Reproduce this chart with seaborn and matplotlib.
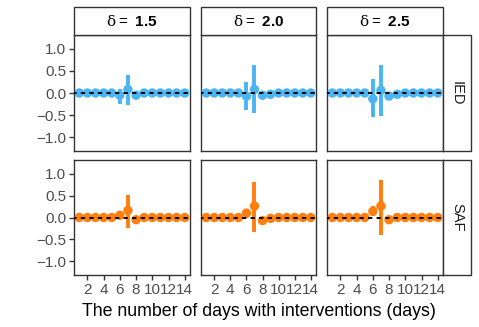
import numpy as np
import pandas as pd
import seaborn as sns
import matplotlib
matplotlib.use("Agg")
import matplotlib.pyplot as plt
from matplotlib.patches import Rectangle

sns.set_theme(style="white")
plt.rcParams['font.family'] = ['Liberation Sans', 'DejaVu Sans']
plt.rcParams['mathtext.fontset'] = 'custom'
plt.rcParams['mathtext.rm'] = 'DejaVu Serif'
plt.rcParams['mathtext.sf'] = 'Liberation Sans'
plt.rcParams['mathtext.bf'] = 'Liberation Sans:bold'

# ---- data ----
days = list(range(1, 15))
deltas = ["1.5", "2.0", "2.5"]
groups = ["IED", "SAF"]

# estimates per day, lower and upper bounds
ied_est = {
    "1.5": [0, 0, 0, 0, 0, -0.05, 0.08, -0.05, 0, 0, 0, 0, 0, 0],
    "2.0": [0, 0, 0, 0, 0, -0.07, 0.08, -0.05, -0.03, 0, 0, 0, 0, 0],
    "2.5": [0, 0, 0, 0, 0, -0.13, 0.06, -0.07, -0.03, 0, 0, 0, 0, 0],
}
ied_lo = {
    "1.5": [-0.03, -0.03, -0.03, -0.03, -0.03, -0.24, -0.28, -0.09, -0.03, -0.03, -0.03, -0.03, -0.03, -0.03],
    "2.0": [-0.03, -0.03, -0.03, -0.03, -0.03, -0.39, -0.45, -0.1, -0.06, -0.03, -0.03, -0.03, -0.03, -0.03],
    "2.5": [-0.03, -0.03, -0.03, -0.03, -0.03, -0.54, -0.52, -0.12, -0.06, -0.03, -0.03, -0.03, -0.03, -0.03],
}
ied_hi = {
    "1.5": [0.03, 0.03, 0.03, 0.03, 0.03, 0.1, 0.4, 0.0, 0.03, 0.03, 0.03, 0.03, 0.03, 0.03],
    "2.0": [0.03, 0.03, 0.03, 0.03, 0.03, 0.24, 0.63, 0.0, 0.0, 0.03, 0.03, 0.03, 0.03, 0.03],
    "2.5": [0.03, 0.03, 0.03, 0.03, 0.03, 0.31, 0.63, 0.0, 0.0, 0.03, 0.03, 0.03, 0.03, 0.03],
}
saf_est = {
    "1.5": [0, 0, 0, 0, 0, 0.05, 0.16, -0.05, 0, 0, 0, 0, 0, 0],
    "2.0": [0, 0, 0, 0, 0, 0.1, 0.26, -0.07, -0.02, 0, 0, 0, 0, 0],
    "2.5": [0, 0, 0, 0, 0, 0.14, 0.26, -0.05, 0, 0, 0, 0, 0, 0],
}
saf_lo = {
    "1.5": [-0.03, -0.03, -0.03, -0.03, -0.03, 0.0, -0.23, -0.09, -0.03, -0.03, -0.03, -0.03, -0.03, -0.03],
    "2.0": [-0.03, -0.03, -0.03, -0.03, -0.03, 0.0, -0.33, -0.12, -0.05, -0.03, -0.03, -0.03, -0.03, -0.03],
    "2.5": [-0.03, -0.03, -0.03, -0.03, -0.03, 0.03, -0.39, -0.1, -0.03, -0.03, -0.03, -0.03, -0.03, -0.03],
}
saf_hi = {
    "1.5": [0.03, 0.03, 0.03, 0.03, 0.03, 0.09, 0.52, 0.0, 0.03, 0.03, 0.03, 0.03, 0.03, 0.03],
    "2.0": [0.03, 0.03, 0.03, 0.03, 0.03, 0.18, 0.82, 0.0, 0.01, 0.03, 0.03, 0.03, 0.03, 0.03],
    "2.5": [0.03, 0.03, 0.03, 0.03, 0.03, 0.26, 0.86, 0.0, 0.03, 0.03, 0.03, 0.03, 0.03, 0.03],
}

colors = {"IED": "#4AB5F2", "SAF": "#FF7F0E"}

rows = []
for g, (e, lo, hi) in zip(groups, [(ied_est, ied_lo, ied_hi), (saf_est, saf_lo, saf_hi)]):
    for d in deltas:
        for i, day in enumerate(days):
            rows.append(dict(group=g, delta=d, day=day, est=e[d][i], lo=lo[d][i], hi=hi[d][i]))
df = pd.DataFrame(rows)

W, H = 479, 327
fig = plt.figure(figsize=(W / 100, H / 100), dpi=100)

panel_x = [(74, 190), (201, 316), (327, 443)]
panel_y = [(35, 151), (160, 275)]
grey = "#4D4D4D"

def fx(px):
    return px / W

def fy(py):
    return 1 - py / H

for r, g in enumerate(groups):
    for c, d in enumerate(deltas):
        x0, x1 = panel_x[c]
        y0, y1 = panel_y[r]
        ax = fig.add_axes([fx(x0), fy(y1), fx(x1 - x0), (y1 - y0) / H])
        sub = df[(df.group == g) & (df.delta == d)]
        ax.vlines(sub.day, sub.lo, sub.hi, color=colors[g], lw=2.8, zorder=2)
        sns.scatterplot(data=sub, x="day", y="est", color=colors[g], s=46,
                        edgecolor="none", ax=ax, zorder=3, legend=False)
        # dashed zero line drawn over the points
        ax.axhline(0, color="black", lw=1.4, ls=(0.9, (2.2, 2.2)), zorder=4)
        ax.set_xlim(0.35, 14.65)
        ax.set_ylim(-1.31, 1.31)
        ax.set_xticks([2, 4, 6, 8, 10, 12, 14])
        ax.set_yticks([-1.0, -0.5, 0.0, 0.5, 1.0])
        ax.set_xlabel("")
        ax.set_ylabel("")
        for s in ax.spines.values():
            s.set_color("#333333")
            s.set_linewidth(1.0)
        ax.tick_params(axis="both", length=3.5, width=1, color="#333333",
                       labelcolor=grey, labelsize=11, pad=2, direction="out",
                       bottom=True, left=True)
        if c == 0:
            ax.set_yticklabels(["\u22121.0", "\u22120.5", "0.0", "0.5", "1.0"])
        else:
            ax.tick_params(axis="y", left=False, labelleft=False)
        if r == 0:
            ax.tick_params(axis="x", bottom=False, labelbottom=False)

        # top strips
        if r == 0:
            fig.patches.append(Rectangle((fx(x0), fy(35)), fx(x1 - x0), (35 - 7) / H,
                                         transform=fig.transFigure, facecolor="white",
                                         edgecolor="#333333", lw=1.0, zorder=0))
            fig.text(fx((x0 + x1) / 2), fy(21), r"$\mathrm{\delta}\mathsf{=}\ \mathbf{%s}$" % d,
                     ha="center", va="center", fontsize=11, color="black")
        # right strips
        if c == 2:
            fig.patches.append(Rectangle((fx(443), fy(y1)), fx(471 - 443), (y1 - y0) / H,
                                         transform=fig.transFigure, facecolor="white",
                                         edgecolor="#333333", lw=1.0, zorder=0))
            fig.text(fx(457), fy((y0 + y1) / 2), g, rotation=-90, ha="center",
                     va="center", fontsize=10.5, color="#1A1A1A")

fig.text(fx(259), fy(311), "The number of days with interventions (days)",
         ha="center", va="center", fontsize=12.8, color="black")

fig.savefig("out.png", dpi=100)
